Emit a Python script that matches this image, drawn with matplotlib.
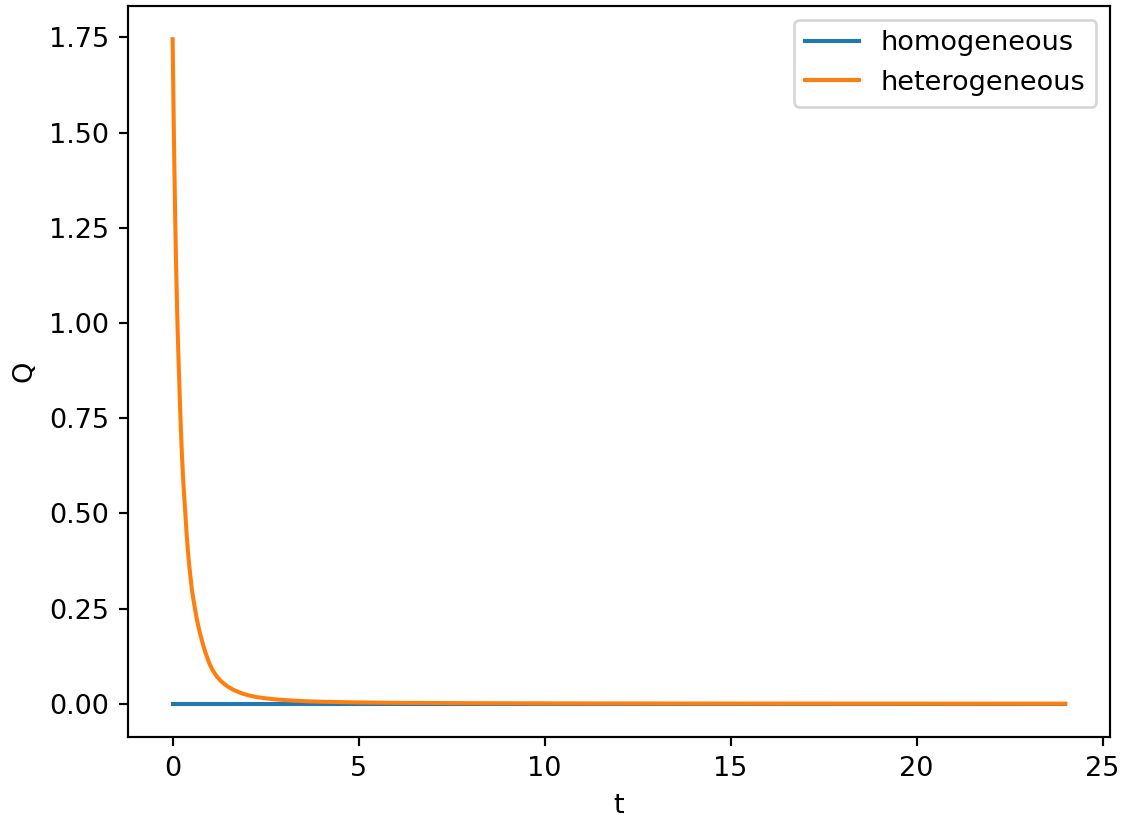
import matplotlib
matplotlib.use("Agg")
import matplotlib.pyplot as plt

# Data
t_homog = [0.0, 24.0]
q_homog = [0.0, 0.0]

t_hetero = [0.0, 0.015, 0.03, 0.05, 0.07, 0.09, 0.113, 0.135, 0.16, 0.18, 0.2, 0.222, 0.247,
            0.27, 0.3, 0.336, 0.38, 0.425, 0.45, 0.49, 0.52, 0.56, 0.6, 0.65, 0.7, 0.74,
            0.785, 0.83, 0.874, 0.93, 1.0, 1.08, 1.19, 1.3, 1.4, 1.5, 1.635, 1.75, 1.9,
            2.05, 2.26, 2.45, 2.7, 3.0, 3.16, 3.6, 4.05, 5.0, 6.0, 8.0, 10.0, 14.0, 18.0, 24.0]
q_hetero = [1.745, 1.63, 1.52, 1.39, 1.27, 1.165, 1.065, 0.98, 0.90, 0.84, 0.78, 0.72, 0.66,
            0.615, 0.56, 0.508, 0.44, 0.385, 0.36, 0.324, 0.298, 0.273, 0.25, 0.222, 0.200, 0.183,
            0.167, 0.151, 0.137, 0.121, 0.103, 0.0875, 0.0712, 0.0596, 0.051, 0.044, 0.0366, 0.0317, 0.026,
            0.022, 0.0175, 0.0149, 0.0121, 0.0098, 0.0087, 0.0065, 0.0052, 0.0035, 0.0025, 0.0015, 0.001, 0.0006, 0.0004, 0.0002]

series_labels = ["homogeneous", "heterogeneous"]

DPI = 195
fig = plt.figure(figsize=(1122 / DPI, 818 / DPI), dpi=DPI)
ax = fig.add_axes([128 / 1122, 1 - 737 / 818, (1110 - 128) / 1122, (737 - 6) / 818])

ax.plot(t_homog, q_homog, color="#1f77b4", label=series_labels[0])
ax.plot(t_hetero, q_hetero, color="#ff7f0e", label=series_labels[1])

ax.set_xlabel("t")
ax.set_ylabel("Q")
ax.legend(loc="upper right")

fig.savefig("out.png", dpi=DPI)
